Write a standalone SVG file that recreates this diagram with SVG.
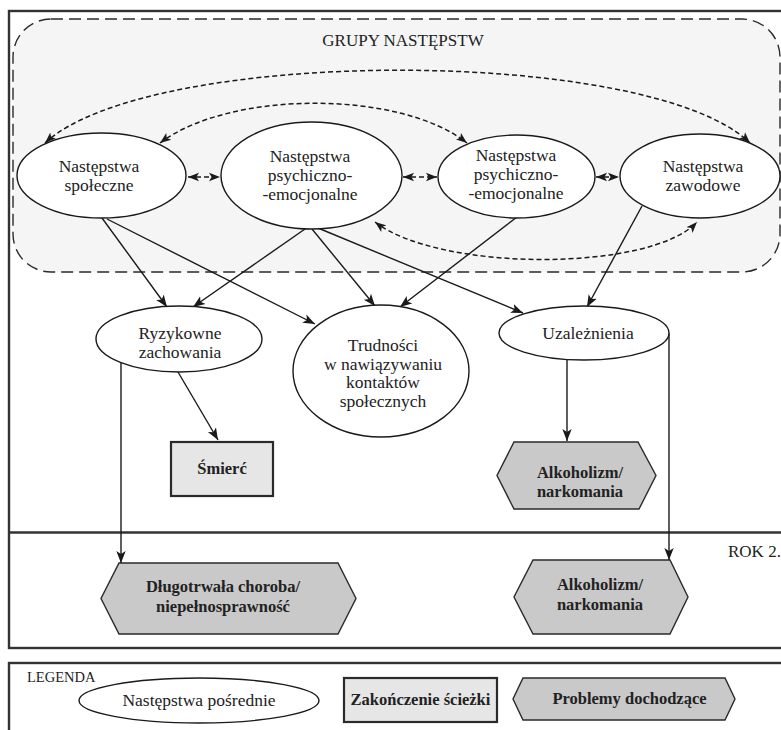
<svg xmlns="http://www.w3.org/2000/svg" width="781" height="730" viewBox="0 0 781 730">
<defs>
<style>
.frame{fill:none;stroke:#333;stroke-width:2.4}
.ell{fill:#fff;stroke:#1a1a1a;stroke-width:1.4}
.hex{fill:#c9c9c9;stroke:#2a2a2a;stroke-width:1.4}
.end{fill:#e6e6e6;stroke:#2a2a2a;stroke-width:2.2}
.t{font-family:"Liberation Serif","Times New Roman",serif;font-size:17.5px;fill:#222;text-anchor:middle}
.b{font-family:"Liberation Serif","Times New Roman",serif;font-size:16.5px;font-weight:bold;fill:#222;text-anchor:middle}
.lbl{font-family:"Liberation Serif","Times New Roman",serif;fill:#222}
.sol{fill:none;stroke:#1a1a1a;stroke-width:1.4;marker-end:url(#ah)}
.dsh{fill:none;stroke:#1a1a1a;stroke-width:1.5;stroke-dasharray:5 3;marker-start:url(#ad);marker-end:url(#ad)}
</style>
<marker id="ah" markerUnits="userSpaceOnUse" markerWidth="13" markerHeight="11" refX="12" refY="5.5" orient="auto"><path d="M0,0.8 L12,5.5 L0,10.2 L3,5.5 z" fill="#1a1a1a"/></marker>
<marker id="ad" markerUnits="userSpaceOnUse" markerWidth="12" markerHeight="10" refX="11" refY="5" orient="auto-start-reverse"><path d="M0,0.8 L11,5 L0,9.2 L2.6,5 z" fill="#1a1a1a"/></marker>
</defs>
<rect width="781" height="730" fill="#fff"/>
<g id="frames">
<rect class="frame" x="9" y="11" width="790" height="637"/>
<line class="frame" x1="9" y1="532.5" x2="790" y2="532.5"/>
<rect class="frame" x="9" y="663" width="790" height="90"/>
</g>
<g id="group-area">
<rect x="13" y="19" width="767" height="253" rx="38" ry="38" fill="#f5f5f5" stroke="#2a2a2a" stroke-width="1.4" stroke-dasharray="12 6"/>
<text class="lbl" x="403" y="46" font-size="17" text-anchor="middle">GRUPY NASTĘPSTW</text>
</g>
<text class="lbl" x="728" y="557" font-size="17">ROK 2.</text>
<g id="connectors">
<path class="dsh" d="M45,143 C150,46 650,46 750,143"/>
<path class="dsh" d="M160,143 C230,90 400,90 467,143"/>
<path class="dsh" d="M375,222 C440,272 650,272 697,222"/>
<line class="dsh" x1="188" y1="177" x2="220" y2="177"/>
<line class="dsh" x1="403" y1="177" x2="437" y2="177"/>
<line class="dsh" x1="596" y1="177" x2="619" y2="177"/>
<line class="sol" x1="102" y1="218" x2="167" y2="307"/>
<line class="sol" x1="107" y1="219" x2="315" y2="324"/>
<line class="sol" x1="305" y1="229" x2="193" y2="307"/>
<line class="sol" x1="312" y1="229" x2="375" y2="306"/>
<line class="sol" x1="318" y1="228" x2="523" y2="313"/>
<line class="sol" x1="517" y1="217" x2="400" y2="307"/>
<line class="sol" x1="642" y1="206" x2="587" y2="307"/>
<line class="sol" x1="178" y1="372" x2="218" y2="440"/>
<line class="sol" x1="121" y1="362" x2="121" y2="563"/>
<line class="sol" x1="567" y1="360" x2="567" y2="441"/>
<line class="sol" x1="669" y1="333" x2="669" y2="560"/>
</g>
<g id="n-spoleczne">
<ellipse class="ell" cx="101.5" cy="175.5" rx="84.5" ry="42.5"/>
<text class="t" x="99" y="172">Następstwa</text>
<text class="t" x="99" y="191">społeczne</text>
</g>
<g id="n-psych1">
<ellipse class="ell" cx="311.5" cy="175.5" rx="90.5" ry="53.5"/>
<text class="t" x="310" y="162">Następstwa</text>
<text class="t" x="310" y="181">psychiczno-</text>
<text class="t" x="310" y="200">-emocjonalne</text>
</g>
<g id="n-psych2">
<ellipse class="ell" cx="516.5" cy="176.5" rx="78.5" ry="41.5"/>
<text class="t" x="516" y="161">Następstwa</text>
<text class="t" x="516" y="180">psychiczno-</text>
<text class="t" x="516" y="199">-emocjonalne</text>
</g>
<g id="n-zawodowe">
<ellipse class="ell" cx="700" cy="176" rx="80" ry="42"/>
<text class="t" x="703" y="172">Następstwa</text>
<text class="t" x="703" y="191">zawodowe</text>
</g>
<g id="n-ryzykowne">
<ellipse class="ell" cx="179" cy="339" rx="83" ry="33"/>
<text class="t" x="180" y="339">Ryzykowne</text>
<text class="t" x="180" y="358">zachowania</text>
</g>
<g id="n-trudnosci">
<ellipse class="ell" cx="381" cy="371" rx="88" ry="66"/>
<text class="t" x="383" y="351">Trudności</text>
<text class="t" x="383" y="369.5">w nawiązywaniu</text>
<text class="t" x="383" y="388">kontaktów</text>
<text class="t" x="383" y="406.5">społecznych</text>
</g>
<g id="n-uzaleznienia">
<ellipse class="ell" cx="584" cy="333" rx="85" ry="27"/>
<text class="t" x="588" y="339">Uzależnienia</text>
</g>
<g id="n-smierc">
<rect class="end" x="171" y="442" width="102" height="54"/>
<text class="b" x="222" y="474">Śmierć</text>
</g>
<g id="n-alko1">
<polygon class="hex" points="514,442 638,442 656,475.5 639,509 514,509 497,475.5"/>
<text class="b" x="580" y="478">Alkoholizm/</text>
<text class="b" x="580" y="497">narkomania</text>
</g>
<g id="n-choroba">
<polygon class="hex" points="119,563 338,563 356,598.5 338,634 119,634 101,598.5"/>
<text class="b" x="223" y="592">Długotrwała choroba/</text>
<text class="b" x="223" y="612">niepełnosprawność</text>
</g>
<g id="n-alko2">
<polygon class="hex" points="533,560 670,560 688,597 670,634 533,634 514,597"/>
<text class="b" x="600" y="590">Alkoholizm/</text>
<text class="b" x="600" y="610">narkomania</text>
</g>
<g id="legend">
<text class="lbl" x="27" y="682" font-size="14.5">LEGENDA</text>
<g id="leg-ellipse">
<ellipse class="ell" cx="199" cy="700.5" rx="120" ry="22.5"/>
<text class="t" x="199" y="706" font-size="17">Następstwa pośrednie</text>
</g>
<g id="leg-rect">
<rect class="end" x="344" y="678" width="153" height="44"/>
<text class="b" x="420.5" y="705">Zakończenie ścieżki</text>
</g>
<g id="leg-hex">
<polygon class="hex" points="523,678 725,678 735,699 725,720 523,720 513,699"/>
<text class="b" x="629.5" y="704">Problemy dochodzące</text>
</g>
</g>
</svg>
